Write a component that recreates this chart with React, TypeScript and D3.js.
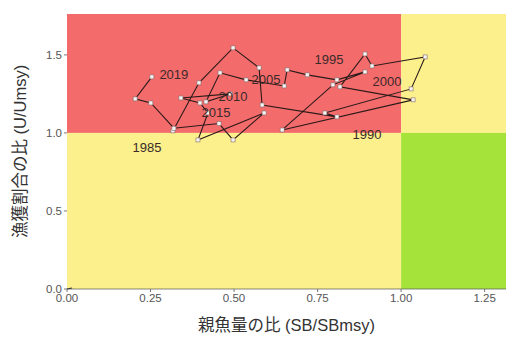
import React from "react";
import * as d3 from "d3";

// Stock status trajectory (Kobe plot)
const years = [
  1985, 1986, 1987, 1988, 1989, 1990, 1991, 1992, 1993, 1994, 1995, 1996,
  1997, 1998, 1999, 2000, 2001, 2002, 2003, 2004, 2005, 2006, 2007, 2008,
  2009, 2010, 2011, 2012, 2013, 2014, 2015, 2016, 2017, 2018, 2019,
];
const sbRatio = [
  0.317, 0.395, 0.497, 0.575, 0.584, 0.808, 0.772, 1.03, 1.072, 0.913, 0.892,
  0.817, 1.036, 0.644, 0.796, 0.892, 0.808, 0.719, 0.659, 0.65, 0.536, 0.458,
  0.416, 0.489, 0.341, 0.398, 0.422, 0.392, 0.59, 0.497, 0.455, 0.32, 0.251,
  0.204, 0.254,
];
const uRatio = [
  1.013, 1.321, 1.545, 1.417, 1.179, 1.103, 1.128, 1.282, 1.487, 1.429, 1.506,
  1.295, 1.212, 1.019, 1.308, 1.391, 1.34, 1.372, 1.404, 1.301, 1.34, 1.385,
  1.199, 1.25, 1.224, 1.192, 1.128, 0.955, 1.128, 0.955, 1.06, 1.03, 1.192,
  1.218, 1.359,
];
const labelledYears = [1985, 1990, 1995, 2000, 2005, 2010, 2015, 2019];
const xTicks = [0, 0.25, 0.5, 0.75, 1.0, 1.25];
const yTicks = [0, 0.5, 1.0, 1.5];

// label nudges (px) relative to each labelled point
const nudges: Record<number, [number, number]> = {
  1985: [-26, 17],
  1990: [30, 18],
  1995: [-36, 6],
  2000: [22, 10],
  2005: [20, 0],
  2010: [33, -6],
  2015: [-3, -11],
  2019: [22, -2],
};

const W = 506;
const H = 340;
const M = { left: 67, right: 0, top: 14, bottom: 51 };

export default function App() {
  const x = d3.scaleLinear().domain([0, 1.314]).range([M.left, W - M.right]);
  const y = d3.scaleLinear().domain([0, 1.762]).range([H - M.bottom, M.top]);

  const pts = years.map((yr, i) => ({ yr, sb: sbRatio[i], u: uRatio[i] }));
  const line = d3
    .line<{ sb: number; u: number }>()
    .x((d) => x(d.sb))
    .y((d) => y(d.u));

  const x0 = x(0);
  const x1 = x(1);
  const xMax = x(1.314);
  const y0 = y(0);
  const y1 = y(1);
  const yMax = y(1.762);

  const tickFont = "'Liberation Sans', Arial, sans-serif";
  const titleFont = "'Liberation Sans', 'Noto Sans CJK JP', sans-serif";

  return (
    <svg
      width={W}
      height={H}
      style={{ position: "absolute", left: 0, top: 0, background: "#fff" }}
    >
      {/* status quadrants */}
      <rect x={x0} y={yMax} width={x1 - x0} height={y1 - yMax} fill="#F46B6B" />
      <rect x={x0} y={y1} width={x1 - x0} height={y0 - y1} fill="#FBF08C" />
      <rect x={x1} y={yMax} width={xMax - x1} height={y1 - yMax} fill="#FBF08C" />
      <rect x={x1} y={y1} width={xMax - x1} height={y0 - y1} fill="#A6E33A" />
      <line x1={x0} x2={xMax} y1={y0} y2={y0} stroke="#555" strokeWidth={1} opacity={0.7} />

      {/* trajectory */}
      <path d={line(pts) ?? ""} fill="none" stroke="#2a1a1a" strokeWidth={1.1} />
      {pts.map((p) => (
        <rect
          key={p.yr}
          x={x(p.sb) - 2}
          y={y(p.u) - 2}
          width={4}
          height={4}
          fill="#f4f4f4"
          stroke="#8a6a6a"
          strokeWidth={0.6}
        />
      ))}
      {pts
        .filter((p) => labelledYears.includes(p.yr))
        .map((p) => {
          const [dx, dy] = nudges[p.yr];
          return (
            <text
              key={"l" + p.yr}
              x={x(p.sb) + dx}
              y={y(p.u) + dy}
              textAnchor="middle"
              dominantBaseline="central"
              fontFamily={tickFont}
              fontSize={13}
              fill="#3a2a2a"
            >
              {p.yr}
            </text>
          );
        })}

      {/* x axis */}
      {xTicks.map((t) => (
        <g key={"x" + t}>
          <line x1={x(t)} x2={x(t)} y1={y0} y2={y0 + 3} stroke="#777" />
          <text
            x={x(t)}
            y={y0 + 13}
            textAnchor="middle"
            fontFamily={tickFont}
            fontSize={11.5}
            fill="#555"
          >
            {d3.format(".2f")(t)}
          </text>
        </g>
      ))}
      {/* y axis */}
      {yTicks.map((t) => (
        <g key={"y" + t}>
          <line x1={x0 - 3} x2={x0} y1={y(t)} y2={y(t)} stroke="#777" />
          <text
            x={x0 - 5}
            y={y(t)}
            textAnchor="end"
            dominantBaseline="central"
            fontFamily={tickFont}
            fontSize={11.5}
            fill="#555"
          >
            {d3.format(".1f")(t)}
          </text>
        </g>
      ))}
      <line x1={x0} x2={x0 + 5} y1={y0} y2={y0 - 1} stroke="#333" strokeWidth={1.2} />

      <text
        x={(x0 + xMax) / 2}
        y={H - 9}
        textAnchor="middle"
        fontFamily={titleFont}
        fontSize={16.5}
        fill="#333"
      >
        親魚量の比 (SB/SBmsy)
      </text>
      <text
        transform={`translate(20, ${(y0 + yMax) / 2}) rotate(-90)`}
        textAnchor="middle"
        dominantBaseline="central"
        fontFamily={titleFont}
        fontSize={16.5}
        fill="#333"
      >
        漁獲割合の比 (U/Umsy)
      </text>
    </svg>
  );
}
